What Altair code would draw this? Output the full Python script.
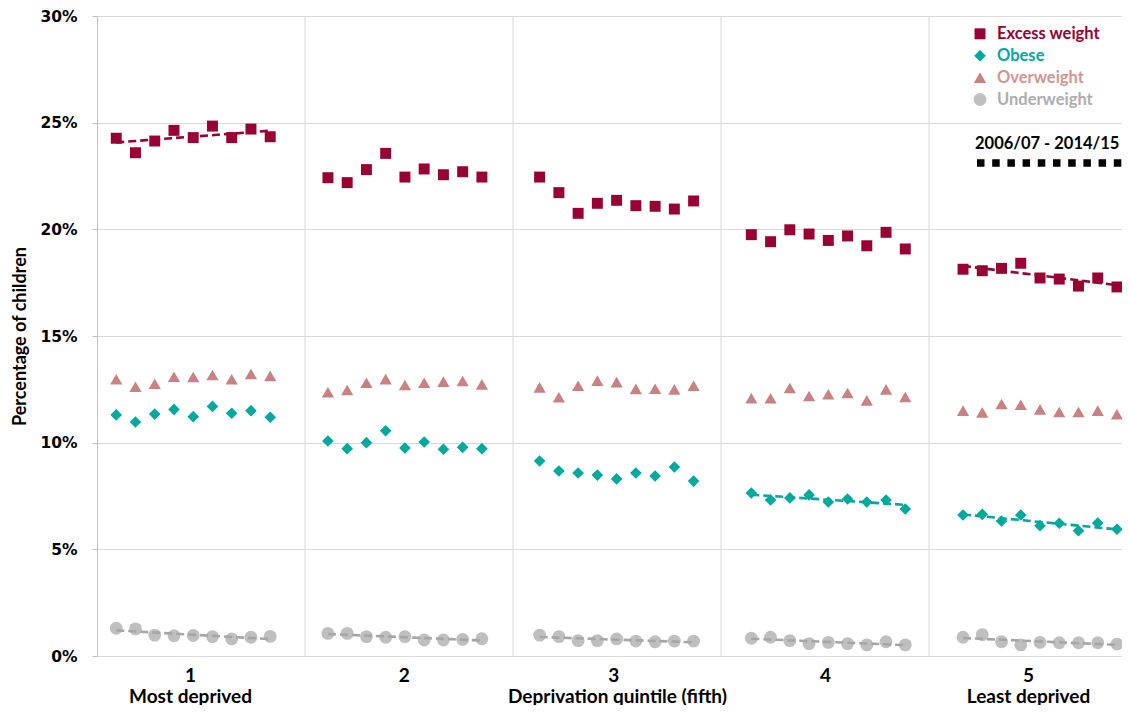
import altair as alt
import pandas as pd

# ---------------- data ----------------
QUINTILES = ["1", "2", "3", "4", "5"]
QUINTILE_NOTES = ["Most deprived", "", "", "", "Least deprived"]
YEARS = ["2006/07", "2007/08", "2008/09", "2009/10", "2010/11",
         "2011/12", "2012/13", "2013/14", "2014/15"]
SERIES = ["Excess weight", "Obese", "Overweight", "Underweight"]

excess_weight = [
    [24.27, 23.59, 24.14, 24.64, 24.30, 24.84, 24.30, 24.70, 24.34],
    [22.42, 22.19, 22.80, 23.56, 22.45, 22.83, 22.56, 22.70, 22.45],
    [22.45, 21.72, 20.75, 21.22, 21.36, 21.11, 21.08, 20.95, 21.33],
    [19.75, 19.42, 19.98, 19.78, 19.48, 19.69, 19.23, 19.86, 19.08],
    [18.13, 18.06, 18.17, 18.41, 17.72, 17.67, 17.34, 17.72, 17.30],
]
obese = [
    [11.30, 10.97, 11.34, 11.56, 11.22, 11.70, 11.38, 11.50, 11.19],
    [10.08, 9.72, 10.00, 10.56, 9.75, 10.03, 9.69, 9.78, 9.72],
    [9.14, 8.67, 8.58, 8.48, 8.30, 8.58, 8.44, 8.86, 8.20],
    [7.64, 7.31, 7.41, 7.55, 7.22, 7.36, 7.22, 7.31, 6.89],
    [6.61, 6.64, 6.33, 6.61, 6.11, 6.22, 5.87, 6.23, 5.94],
]
overweight = [
    [12.97, 12.62, 12.76, 13.09, 13.08, 13.17, 12.97, 13.22, 13.13],
    [12.36, 12.47, 12.81, 12.98, 12.70, 12.81, 12.86, 12.89, 12.73],
    [12.59, 12.13, 12.67, 12.91, 12.84, 12.52, 12.53, 12.50, 12.67],
    [12.08, 12.08, 12.56, 12.19, 12.27, 12.33, 11.98, 12.50, 12.14],
    [11.50, 11.42, 11.81, 11.78, 11.56, 11.44, 11.44, 11.50, 11.33],
]
underweight = [
    [1.30, 1.27, 0.98, 0.95, 0.96, 0.91, 0.80, 0.88, 0.92],
    [1.06, 1.06, 0.91, 0.88, 0.91, 0.75, 0.75, 0.78, 0.81],
    [0.98, 0.91, 0.72, 0.72, 0.80, 0.70, 0.67, 0.70, 0.70],
    [0.83, 0.88, 0.72, 0.58, 0.64, 0.58, 0.52, 0.67, 0.52],
    [0.88, 1.00, 0.67, 0.52, 0.64, 0.62, 0.62, 0.62, 0.56],
]
VALUES = [excess_weight, obese, overweight, underweight]

# which (series, quintile) get a dashed linear trend line
TRENDS = [
    ("Excess weight", "1"), ("Excess weight", "5"),
    ("Obese", "4"), ("Obese", "5"),
    ("Underweight", "1"), ("Underweight", "2"), ("Underweight", "3"),
    ("Underweight", "4"), ("Underweight", "5"),
]
PERIOD_LABEL = "2006/07 - 2014/15"
Y_TICKS = [0, 5, 10, 15, 20, 25, 30]

# ---------------- styles ----------------
COLORS = ["#990033", "#00A99D", "#C98282", "#BFBFBF"]
TEXT_COLORS = ["#990033", "#00A99D", "#D69393", "#ADADAD"]
TREND_COLORS = ["#990033", "#00A99D", "#C98282", "#A6A6A6"]
SHAPES = ["square", "diamond", "triangle-up", "circle"]
SIZES = [120, 165, 140, 100]
FONT = "Lato"

# layout (x in "slot" units: one slot per year, 11 slots per quintile)
W, H = 1025, 640
SLOT_PX = 19.245
X_MAX = W / SLOT_PX
GROUP_SLOTS = 11
CELL = 208 / SLOT_PX
GRID_X = [CELL * k for k in range(1, 5)]
TICK_PX = [93, 306.7, 516.3, 728, 931]
TICK_POS = [p / SLOT_PX for p in TICK_PX]

rows = []
for s, series in enumerate(SERIES):
    for g, q in enumerate(QUINTILES):
        for i, yr in enumerate(YEARS):
            rows.append({
                "series": series, "quintile": q, "year": yr,
                "value": VALUES[s][g][i],
                "slot": 1 + GROUP_SLOTS * g + i,
                "trend": (series, q) in TRENDS,
                "tcolor": TREND_COLORS[s],
            })
df = pd.DataFrame(rows)

xscale = alt.Scale(domain=[0, X_MAX], nice=False, zero=False)
yscale = alt.Scale(domain=[0, 30], nice=False)

label_expr = ""
for pos, q, note in zip(TICK_POS, QUINTILES, QUINTILE_NOTES):
    lab = f"['{q}', '{note}']" if note else f"'{q}'"
    label_expr += f"abs(datum.value - {pos:.4f}) < 0.5 ? {lab} : "
label_expr += "''"

x_axis = alt.Axis(
    values=TICK_POS, labelExpr=label_expr, grid=False, ticks=False, tickSize=0,
    domain=False, labelFont=FONT, labelFontSize=19, labelFontWeight="bold",
    labelColor="black", labelBaseline="alphabetic", labelPadding=25,
    labelLineHeight=21, labelAngle=0,
    title="Deprivation quintile (fifth)", titleFont=FONT, titleFontSize=19,
    titleFontWeight="bold", titleColor="black", titleBaseline="alphabetic",
    titleY=46, titleX=520,
)
y_axis = alt.Axis(
    values=Y_TICKS, labelExpr="datum.value + '%'", grid=True, gridColor="#D9D9D9",
    domainColor="#BFBFBF", tickColor="#BFBFBF", tickSize=5, labelPadding=15,
    labelFont="DejaVu Sans", labelFontSize=15.5, labelFontWeight="bold",
    labelColor="black",
    title="Percentage of children", titleFont=FONT, titleFontSize=18,
    titleFontWeight="bold", titleColor="black", titleAngle=270,
    titleBaseline="middle", titleAlign="center", titleX=-77, titleY=H / 2,
)

x_enc = alt.X("slot:Q", scale=xscale, axis=x_axis)
y_enc = alt.Y("value:Q", scale=yscale, axis=y_axis)

grid = alt.Chart(pd.DataFrame({"slot": GRID_X})).mark_rule(
    color="#D9D9D9", strokeWidth=1
).encode(x=x_enc)

points = alt.Chart(df).mark_point(filled=True, opacity=1).encode(
    x=x_enc, y=y_enc,
    color=alt.Color("series:N", scale=alt.Scale(domain=SERIES, range=COLORS), legend=None),
    shape=alt.Shape("series:N", scale=alt.Scale(domain=SERIES, range=SHAPES), legend=None),
    size=alt.Size("series:N", scale=alt.Scale(domain=SERIES, range=SIZES), legend=None),
)

trend = alt.Chart(df).transform_filter(
    "datum.trend"
).transform_regression(
    "slot", "value", groupby=["series", "quintile", "tcolor"]
).mark_line(strokeDash=[8, 4], strokeWidth=2.6).encode(
    x=x_enc, y=y_enc,
    color=alt.Color("tcolor:N", scale=None),
    detail="quintile:N",
)

# custom legend (pixel positions inside the plot area)
LEG_MX, LEG_TX, LEG_Y0, LEG_DY = 883, 900, 17.8, 21.9
leg = pd.DataFrame({
    "series": SERIES,
    "tcol": TEXT_COLORS,
    "px": [LEG_MX] * 4,
    "tx": [LEG_TX] * 4,
    "py": [LEG_Y0 + k * LEG_DY for k in range(4)],
})
leg_marks = alt.Chart(leg).mark_point(filled=True, opacity=1).encode(
    x=alt.X("px:Q", scale=None),
    y=alt.Y("py:Q", scale=None),
    color=alt.Color("series:N", scale=alt.Scale(domain=SERIES, range=COLORS), legend=None),
    shape=alt.Shape("series:N", scale=alt.Scale(domain=SERIES, range=SHAPES), legend=None),
    size=alt.Size("series:N", scale=alt.Scale(domain=SERIES, range=SIZES), legend=None),
)
leg_text = alt.Chart(leg).mark_text(
    align="left", baseline="middle", font=FONT, fontSize=16.5, fontWeight="bold"
).encode(
    x=alt.X("tx:Q", scale=None),
    y=alt.Y("py:Q", scale=None),
    text="series:N",
    color=alt.Color("tcol:N", scale=None),
)
period_text = alt.Chart(pd.DataFrame({"t": [PERIOD_LABEL]})).mark_text(
    align="left", baseline="middle", font=FONT, fontSize=16.5, fontWeight="bold", color="black"
).encode(x=alt.value(878), y=alt.value(127.5), text="t:N")
period_line = alt.Chart(pd.DataFrame({"t": [PERIOD_LABEL]})).mark_rule(
    color="black", strokeWidth=7.5, strokeDash=[7.5, 7.7], strokeCap="butt"
).encode(x=alt.value(880), x2=alt.value(1025), y=alt.value(147))

chart = alt.layer(
    grid, points, trend, leg_marks, leg_text, period_text, period_line
).resolve_scale(color="independent", shape="independent", size="independent").properties(
    width=W, height=H,
    autosize=alt.AutoSizeParams(type="none"),
    padding={"left": 89, "top": 8, "right": 0, "bottom": 49},
    background="white",
).configure_view(stroke=None)

chart.save("out.html", embed_options={"renderer": "svg", "actions": False})
